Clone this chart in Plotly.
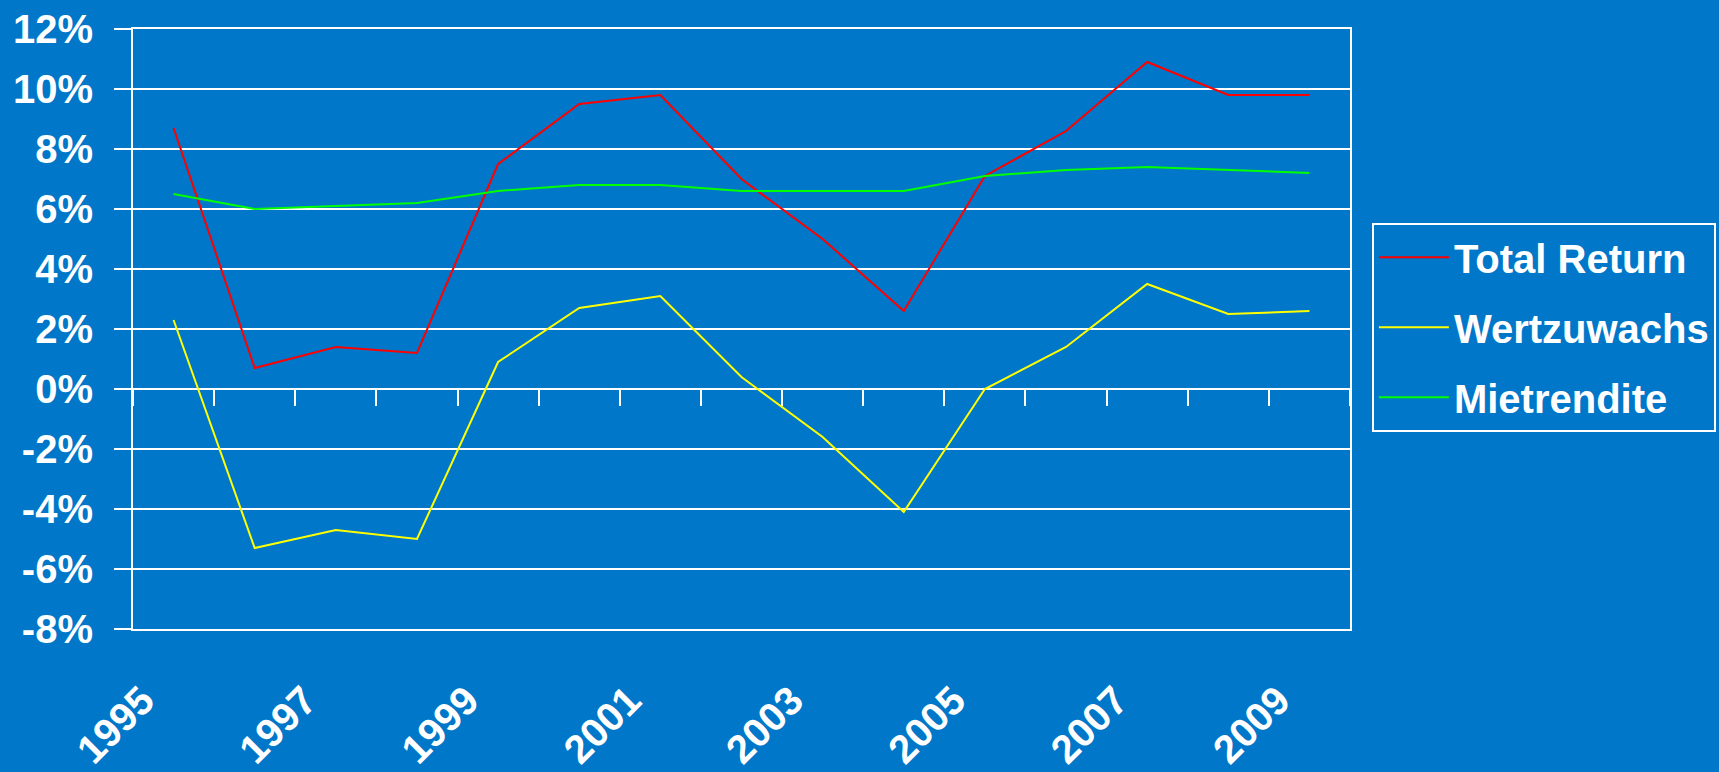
import plotly.graph_objects as go

# Jahresrenditen 1995-2009 (in %)
years = list(range(1995, 2010))
total_return = [8.7, 0.7, 1.4, 1.2, 7.5, 9.5, 9.8, 7.0, 5.0, 2.6, 7.1, 8.6, 10.9, 9.8, 9.8]
wertzuwachs = [2.3, -5.3, -4.7, -5.0, 0.9, 2.7, 3.1, 0.4, -1.6, -4.1, 0.0, 1.4, 3.5, 2.5, 2.6]
mietrendite = [6.5, 6.0, 6.1, 6.2, 6.6, 6.8, 6.8, 6.6, 6.6, 6.6, 7.1, 7.3, 7.4, 7.3, 7.2]

x_tick_years = years[::2]
x_tick_labels = [str(y) for y in x_tick_years]
y_ticks = list(range(-8, 13, 2))
y_tick_labels = [f"{v}%" for v in y_ticks]

BG = "#0077C8"
FONT = "Liberation Sans, Arial, sans-serif"

# name, values, colour, x axis (the last series sits on the boundary-tick axis)
series = [
    ("Total Return", total_return, "#FF0000", "x"),
    ("Wertzuwachs", wertzuwachs, "#FFFF00", "x"),
    ("Mietrendite", mietrendite, "#00FF00", "x2"),
]

fig = go.Figure()
for name, values, color, xa in series:
    fig.add_trace(go.Scatter(
        x=years, y=values, name=name, mode="lines",
        line=dict(color=color, width=2),
        legendgroup=name, xaxis=xa, yaxis="y",
    ))

x_range = [years[0] - 0.5, years[-1] + 0.5]

fig.update_layout(
    width=1719, height=772,
    paper_bgcolor=BG, plot_bgcolor=BG,
    margin=dict(l=133, r=369, t=29, b=143, autoexpand=False),
    font=dict(family=FONT, color="white", size=40, weight="bold"),
    showlegend=True,
    legend=dict(
        x=1.018, y=0.677, xanchor="left", yanchor="top",
        bgcolor=BG, bordercolor="white", borderwidth=2,
        font=dict(family=FONT, size=40, color="white", weight="bold"),
        traceorder="grouped", tracegroupgap=15, itemwidth=70,
    ),
    xaxis=dict(
        range=x_range, automargin=False,
        tickmode="array", tickvals=x_tick_years, ticktext=x_tick_labels,
        tickangle=-45, ticks="", showgrid=False, zeroline=False,
        showline=True, linecolor="white", linewidth=2, mirror=True,
        tickfont=dict(family=FONT, size=40, color="white", weight="bold"),
        ticklabelstandoff=30, ticklabelshift=-31,
    ),
    # category boundary ticks hanging below the 0% line
    xaxis2=dict(
        overlaying="x", anchor="free", position=0.4, side="bottom",
        range=x_range, tick0=x_range[0], dtick=1, automargin=False,
        ticks="outside", ticklen=16, tickwidth=1.5, tickcolor="white",
        showticklabels=False, showgrid=False, zeroline=False, showline=False,
    ),
    yaxis=dict(
        range=[-8, 12], automargin=False,
        tickmode="array", tickvals=y_ticks, ticktext=y_tick_labels,
        showgrid=True, gridcolor="white", gridwidth=1.5,
        zeroline=False,
        showline=True, linecolor="white", linewidth=2, mirror=True,
        ticks="outside", ticklen=17, tickwidth=1.5, tickcolor="white",
        tickfont=dict(family=FONT, size=40, color="white", weight="bold"),
        ticklabelstandoff=13,
    ),
)

fig.write_html("out.html")
